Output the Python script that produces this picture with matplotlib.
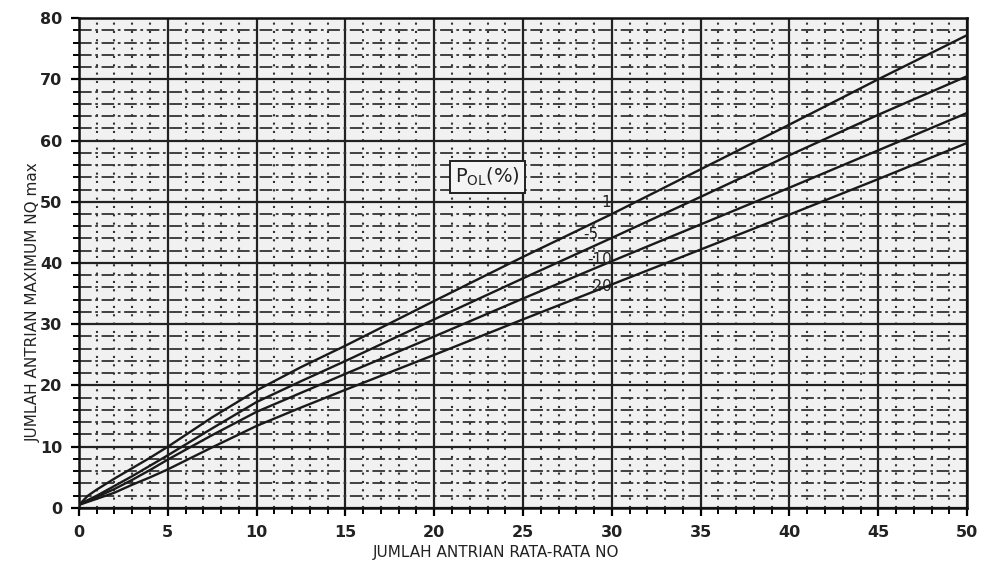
import matplotlib
matplotlib.use("Agg")
import numpy as np
from matplotlib import pyplot as plt
from matplotlib.ticker import MultipleLocator

# Jumlah antrian rata-rata NQ (sumbu x)
nq_rata = [0, 0.5, 1, 2, 3, 4, 5, 7.5, 10, 12.5, 15, 20, 25, 30, 35, 40, 45, 50]

# Jumlah antrian maksimum untuk tiap P_OL (%)
nq_max_1 = [0.5, 2.0, 3.0, 4.8, 6.5, 8.2, 10.0, 14.8, 19.2, 23.0, 26.5, 33.8, 41.0, 48.0, 55.3, 62.6, 70.0, 77.2]
nq_max_5 = [0.5, 1.3, 2.0, 3.6, 5.2, 6.9, 8.6, 13.0, 17.3, 20.7, 24.0, 30.8, 37.5, 44.1, 50.8, 57.6, 64.2, 70.5]
nq_max_10 = [0.5, 1.2, 1.8, 3.1, 4.6, 6.2, 7.9, 11.9, 15.7, 18.8, 21.9, 28.0, 34.2, 40.3, 46.3, 52.3, 58.4, 64.5]
nq_max_20 = [0.5, 1.0, 1.5, 2.5, 3.8, 5.0, 6.3, 9.9, 13.4, 16.4, 19.3, 25.0, 30.8, 36.5, 42.2, 47.9, 53.7, 59.6]

curve_labels = ["1", "5", "10", "20"]
# posisi label kurva (x, y)
label_pos = [(29.4, 49.8), (28.4, 44.6), (28.6, 40.5), (28.6, 36.1)]

x_ticks = [0, 5, 10, 15, 20, 25, 30, 35, 40, 45, 50]
y_ticks = [0, 10, 20, 30, 40, 50, 60, 70, 80]

fig = plt.figure(figsize=(9.97, 5.70), dpi=100)
ax = fig.add_axes([0.0792, 0.1088, 0.8908, 0.8596])
ax.set_facecolor("#f1f1f1")

ax.set_xlim(0, 50)
ax.set_ylim(0, 80)
ax.set_xticks(x_ticks)
ax.set_yticks(y_ticks)
ax.xaxis.set_minor_locator(MultipleLocator(1))
ax.yaxis.set_minor_locator(MultipleLocator(2))

# grid: garis utama tebal, garis bantu putus-putus
ax.grid(True, which="major", color="#222222", linewidth=1.6, linestyle="-")
ax.grid(True, which="minor", axis="x", color="#333333", linewidth=1.5, linestyle=(0, (1, 3)))
ax.grid(True, which="minor", axis="y", color="#333333", linewidth=1.3, linestyle=(0, (7, 2, 1.5, 2)))
ax.set_axisbelow(True)

for s in ax.spines.values():
    s.set_linewidth(1.8)
    s.set_color("#111111")

ax.tick_params(which="major", direction="out", length=6, width=1.6, labelsize=11.5, pad=6)
ax.tick_params(which="minor", direction="out", length=4, width=1.4)
for lab in ax.get_xticklabels() + ax.get_yticklabels():
    lab.set_fontweight("bold")
    lab.set_color("#222222")

for ys in [nq_max_1, nq_max_5, nq_max_10, nq_max_20]:
    ax.plot(nq_rata, ys, color="#1a1a1a", linewidth=1.7, zorder=3,
            solid_joinstyle="round")

for txt, (lx, ly) in zip(curve_labels, label_pos):
    ax.text(lx, ly, "-" + txt if txt != "1" else txt, fontsize=11, color="#222222",
            ha="left", va="center", zorder=4)

ax.text(23.0, 54.1, r"P$_{\mathrm{OL}}$(%)", fontsize=14, color="#222222",
        ha="center", va="center", zorder=5,
        bbox=dict(boxstyle="square,pad=0.25", facecolor="#f4f4f4",
                  edgecolor="#222222", linewidth=1.4))

fig.text(0.498, 0.03, "JUMLAH ANTRIAN RATA-RATA NO", fontsize=11,
         color="#222222", ha="center", va="center")
fig.text(0.033, 0.47, "JUMLAH ANTRIAN MAXIMUM NQ max", fontsize=11,
         color="#222222", ha="center", va="center", rotation=90)

fig.savefig("out.png", dpi=100)
